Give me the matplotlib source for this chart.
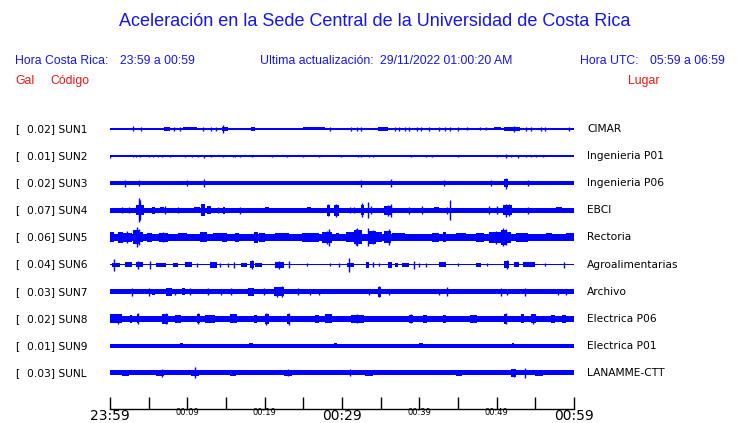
import matplotlib
matplotlib.use("Agg")
import matplotlib.pyplot as plt

# estaciones y rangos (Gal)
stations = ["SUN1", "SUN2", "SUN3", "SUN4", "SUN5", "SUN6", "SUN7", "SUN8", "SUN9", "SUNL"]
places = ["CIMAR", "Ingenieria P01", "Ingenieria P06", "EBCI", "Rectoria",
          "Agroalimentarias", "Archivo", "Electrica P06", "Electrica P01", "LANAMME-CTT"]
gal = [0.02, 0.01, 0.02, 0.07, 0.06, 0.04, 0.03, 0.02, 0.01, 0.03]

# eje de tiempo (minutos desde 23:59)
tick_min = [0, 5, 10, 15, 20, 25, 30, 35, 40, 45, 50, 55, 60]
tick_lab = ["23:59", "", "00:09", "", "00:19", "", "00:29", "", "00:39", "", "00:49", "", "00:59"]
big_labels = ["23:59", "00:29", "00:59"]

# media amplitud de fondo de cada traza
base_half = [1.0, 0.6, 2.2, 2.3, 3.3, 0.7, 2.3, 3.0, 2.0, 2.5]

# rafagas: (inicio, fin, media amplitud)  picos: (minuto, media amplitud)
sun1_bursts = [(0, 2.8, 1.4), (4.5, 6.7, 1.3), (7, 7.8, 1.7), (9.5, 11.2, 1.5), (14.5, 15.3, 1.6),
               (16, 16.6, 1.3), (18.2, 18.8, 2), (19, 20.3, 1.3), (21.7, 22, 1.3), (23.8, 24.4, 1.3),
               (25, 27.8, 1.5), (34.6, 36, 1.8), (49.7, 50.5, 1.5), (51, 53, 1.7)]
sun1_spikes = [(3, 2.5), (4, 2), (8.3, 2), (9, 1.8), (12, 2), (13.1, 2), (13.7, 2), (14.6, 4),
               (28.5, 2), (31.1, 2), (32, 2), (32.4, 1.8), (36.8, 2), (37.4, 2), (38.2, 2), (38.7, 2),
               (39.7, 2), (40.2, 2), (41.2, 2), (42.5, 2), (43.3, 2), (44, 2), (45, 2), (46.2, 1.5),
               (47.8, 1.5), (48.6, 1.5), (52.2, 3), (53.8, 2), (54.4, 2), (55.7, 2), (56.2, 2), (59.4, 2)]

sun2_bursts = [(1.8, 2.2, 1.3)]
sun2_spikes = [(0, 1.5), (3, 1.3), (3.3, 1.3), (3.9, 1.3), (5, 1.3), (5.6, 1.3), (6.2, 1.3),
               (6.7, 1.3), (7.8, 1.3), (9.7, 1.3), (10.6, 1.3), (11.4, 1.3), (12.1, 1.5), (13.1, 1.3),
               (14.6, 1.3), (15.9, 1.3), (16.2, 1.2), (16.8, 1.3), (18.4, 1.3), (21, 1.3), (22.9, 1.3),
               (25, 1.3), (27, 1.3), (29.9, 1.3), (32.1, 1.3), (32.5, 1.3), (33.5, 1.3), (34, 1.3),
               (38.9, 1.3), (40.8, 1.3), (41.7, 1.3), (45, 1.2), (50.1, 1.3), (51.2, 1.8), (51.9, 1.3),
               (52.7, 1.5), (53.8, 1.3), (54.4, 1.3), (55.1, 1.3), (56, 1.3)]

sun3_bursts = [(50.9, 51.5, 4)]
sun3_spikes = [(1.9, 3.5), (3.7, 3), (9.9, 3), (12.2, 4), (32.4, 3.5), (36.3, 4), (43.2, 2.8),
               (49.3, 2.8), (51.2, 5.5), (54, 3)]

sun4_bursts = [(3.4, 4.4, 5), (5.4, 5.8, 3.5), (6.5, 7, 3), (10.8, 11.6, 3), (11.8, 12.3, 6),
               (12.5, 13.1, 4), (14.6, 14.9, 3.5), (20, 20.5, 3), (25.5, 26, 2.8), (28, 28.5, 5.5),
               (29, 29.6, 5.5), (32.4, 32.8, 5), (35.4, 36.4, 4.5), (41.9, 42.5, 2.8), (50.8, 52, 5),
               (57.7, 58.5, 3)]
sun4_spikes = [(1.5, 3), (2.4, 3), (3.8, 12), (3.9, 10), (7.1, 4), (8.8, 3), (14, 3), (16.8, 3.5),
               (28.2, 6), (29.2, 6.5), (31, 3), (31.6, 3), (32.6, 7), (33.4, 8), (33.8, 4), (35.9, 5.5),
               (36.3, 6.5), (38.7, 3.5), (40.4, 4), (43.6, 3.5), (44, 10), (49, 4), (50.1, 4),
               (51.2, 6.5), (51.6, 6), (54, 3.5)]

sun5_bursts = [(0, 0.5, 5), (1, 1.7, 5.5), (1.7, 2.8, 4.2), (3, 3.7, 7), (3.7, 4.3, 5), (4.8, 5.4, 4.5),
               (6.3, 7.5, 4.2), (8.8, 10, 4), (11.6, 12.5, 5), (13.3, 14.8, 4), (14.5, 15.1, 4.5),
               (16.2, 16.7, 4.5), (18.6, 19.2, 5.5), (19.3, 20.1, 4.5), (21.4, 23.1, 4), (24.8, 27, 4.5),
               (27.4, 28.7, 5.5), (29.2, 29.6, 4), (30.5, 31.5, 5), (31.5, 32.6, 7), (33.3, 34.4, 6.5),
               (34.4, 35.2, 5), (35.4, 36.3, 6), (36.5, 38.2, 4), (41.7, 42.5, 4.5), (43.1, 43.4, 5),
               (44.7, 46, 4), (47.3, 48.4, 4.5), (49, 50.5, 5.5), (50.5, 51.2, 7.5), (51.2, 51.9, 5.5),
               (52.5, 54, 4.5), (56.4, 57.2, 4), (59, 60, 4)]
sun5_spikes = [(3.5, 10), (3.8, 8), (2.2, 6), (6.9, 5), (28.3, 8.5), (28, 6.5), (32, 9), (31.8, 8),
               (33.4, 9), (34, 7), (36.1, 8), (50.8, 9), (51.2, 8), (49.9, 6.5)]

sun6_bursts = [(0.2, 1.3, 2), (1.9, 2.8, 2.5), (3.4, 4.3, 2.5), (6, 7.3, 2), (8.2, 8.8, 2), (9.7, 10.6, 2.5),
               (12.9, 13.8, 3), (17, 17.7, 2), (18.1, 18.6, 3.5), (18.8, 19.6, 2), (21.4, 22.5, 3),
               (30.7, 31.5, 2), (33.1, 33.5, 3), (35.9, 36.5, 3), (36.9, 37.2, 2), (37.8, 38.6, 2),
               (42.5, 43.4, 2.5), (47.3, 48, 2), (51, 51.6, 3.5), (52.3, 52.9, 2.5), (53.4, 54.9, 2.5)]
sun6_spikes = [(0.5, 6), (3.6, 4), (5.2, 4), (11.2, 2), (14.2, 2), (15.3, 2), (16, 3), (18.4, 4.5),
               (21.9, 4), (23.1, 3.5), (25.5, 1.5), (28.5, 1.5), (29.6, 2), (30.9, 7), (34, 2.5),
               (34.8, 1.5), (39.3, 4), (39.9, 2), (40.8, 2), (45, 1.5), (48.8, 1.5), (51.3, 4.5),
               (56.2, 1.5), (58.7, 3)]

sun7_bursts = [(5.4, 5.8, 3), (7.3, 8, 4), (9.3, 9.7, 3.5), (17.9, 18.6, 4), (21.2, 22.5, 4.5), (34.6, 35, 5)]
sun7_spikes = [(2.9, 4), (5, 4), (8.4, 3), (10.3, 3.5), (12.7, 3.5), (14.4, 3), (15.6, 3.5), (19.9, 3.5),
               (21.6, 5), (22.2, 5.5), (24.3, 3.5), (25.9, 3), (27, 3), (33.5, 3), (34.8, 5.5), (36.1, 3),
               (42.5, 3), (43.6, 4.5), (50.6, 4), (51.4, 3), (53.6, 4), (57.9, 3), (59, 3)]

sun8_bursts = [(0, 1.5, 4.5), (2.6, 2.9, 4), (3.5, 3.8, 4.5), (6.7, 7.5, 5), (8.4, 9.2, 4), (11.3, 11.6, 4.5),
               (12.3, 13.6, 4.2), (15.5, 16.4, 4.5), (18.6, 19, 4), (20, 20.5, 5), (22.9, 23.3, 5),
               (26.5, 27, 4), (27.8, 28.7, 4.5), (31.1, 32.8, 4), (38.7, 39.2, 4), (40.5, 41, 4),
               (43, 43.5, 4), (46.5, 47.5, 4), (51, 51.4, 5), (53.1, 53.5, 4.5), (54.4, 55.1, 4.5),
               (57, 57.5, 4), (58.5, 59, 4)]
sun8_spikes = [(1, 5), (3.6, 5.5), (7.2, 5.5), (11.4, 5.5), (20.2, 6), (23.1, 6), (32, 4.5),
               (38.9, 4.5), (51.2, 5.5), (54.7, 5)]

sun9_bursts = [(9, 9.4, 2.4), (18, 18.5, 2.4), (29, 29.4, 2.4), (40, 40.5, 2.4), (52, 52.3, 2.4)]
sun9_spikes = []

sunl_bursts = [(1.5, 2.5, 3.2), (6, 7, 3.3), (10.5, 11.5, 3.3), (15.5, 16.3, 3.2), (22.5, 23.5, 3.3),
               (33, 34, 3.2), (44.7, 45.5, 3.3), (51.8, 52.5, 4), (55, 56, 3.3)]
sunl_spikes = [(6.7, 4), (11, 5.5), (23, 3.5), (31, 3.5), (53.6, 5), (52.2, 4)]

all_bursts = [sun1_bursts, sun2_bursts, sun3_bursts, sun4_bursts, sun5_bursts,
              sun6_bursts, sun7_bursts, sun8_bursts, sun9_bursts, sunl_bursts]
all_spikes = [sun1_spikes, sun2_spikes, sun3_spikes, sun4_spikes, sun5_spikes,
              sun6_spikes, sun7_spikes, sun8_spikes, sun9_spikes, sunl_spikes]

W, H = 740, 423
BLUE = "#0000ff"
HBLUE = "#1414f0"
RED = "#f01414"
SP = 27.1          # separacion entre trazas (px)
Y0 = 129           # centro de la primera traza (px)

fig = plt.figure(figsize=(W / 100, H / 100), dpi=100)
fig.patch.set_facecolor("white")

def fx(px):
    return px / W

def fy(py):
    return 1 - py / H

# eje principal: x de 110 a 574 px, y de 115 a 409 px
ax = fig.add_axes([fx(110), fy(409), fx(574) - fx(110), (409 - 115) / H])
ax.set_xlim(0, 60)
ax.set_ylim((409 - Y0) / SP, (115 - Y0) / SP)

for i in range(len(stations)):
    b = base_half[i] / SP
    ax.fill_between([0, 60], i - b, i + b, color=BLUE, linewidth=0)
    for t0, t1, h in all_bursts[i]:
        hh = h / SP
        ax.bar(t0, 2 * hh, width=max(t1 - t0, 0.13), bottom=i - hh, align="edge",
               color=BLUE, linewidth=0)
    for t, h in all_spikes[i]:
        hh = h / SP
        ax.vlines(t, i - hh, i + hh, color=BLUE, linewidth=1.0)

for s in ["top", "left", "right"]:
    ax.spines[s].set_visible(False)
ax.spines["bottom"].set_linewidth(1.0)
ax.set_yticks([])
ax.set_xticks(tick_min)
ax.set_xticklabels(tick_lab)
ax.tick_params(axis="x", direction="in", length=9, width=1, pad=0, colors="black")
for lab in ax.get_xticklabels():
    if lab.get_text() in big_labels:
        lab.set_fontsize(10)
    else:
        lab.set_fontsize(6)
        lab.set_y(0.005)

# titulo y encabezados
fig.text(fx(375), fy(22), "Aceleración en la Sede Central de la Universidad de Costa Rica",
         ha="center", va="center", color=HBLUE, fontsize=13, family="Liberation Sans")
hdr = dict(va="center", color=HBLUE, fontsize=8.8, family="Liberation Sans")
fig.text(fx(15), fy(61), "Hora Costa Rica:", **hdr)
fig.text(fx(120), fy(61), "23:59 a 00:59", **hdr)
fig.text(fx(260), fy(61), "Ultima actualización:", **hdr)
fig.text(fx(380), fy(61), "29/11/2022 01:00:20 AM", **hdr)
fig.text(fx(580), fy(61), "Hora UTC:", **hdr)
fig.text(fx(650), fy(61), "05:59 a 06:59", **hdr)
red = dict(va="center", color=RED, fontsize=8.8, family="Liberation Sans")
fig.text(fx(15), fy(81), "Gal", **red)
fig.text(fx(50), fy(81), "Código", **red)
fig.text(fx(628), fy(81), "Lugar", **red)

# etiquetas de cada traza
for i in range(len(stations)):
    yy = fy(Y0 + i * SP)
    fig.text(fx(15), yy, "[", va="center", fontsize=7.7, color="black")
    fig.text(fx(27), yy, f"{gal[i]:.2f}] {stations[i]}", va="center", fontsize=7.7, color="black")
    fig.text(fx(587), yy, places[i], va="center", fontsize=7.7, color="black")

fig.savefig("out.png", dpi=100)
